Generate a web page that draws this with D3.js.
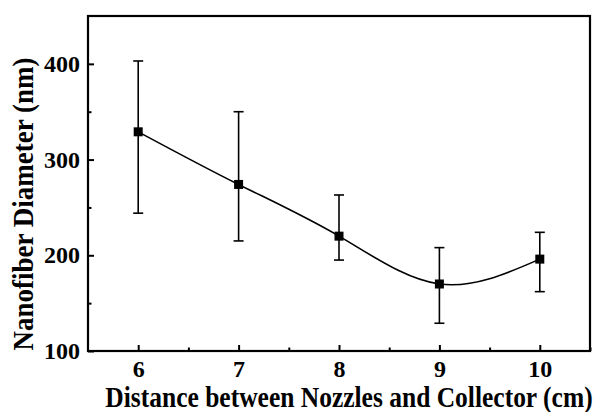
<!DOCTYPE html>
<html>
<head>
<meta charset="utf-8">
<script src="https://cdn.jsdelivr.net/npm/d3@7"></script>
<style>
  body { margin: 0; background: #fff; }
  text { font-family: "Liberation Serif", "Times New Roman", serif; font-weight: bold; fill: #000; }
</style>
</head>
<body>
<script>
// distance (cm) vs nanofiber diameter (nm)
const distance = [6, 7, 8, 9, 10];
const diameter = [329, 274, 220, 170, 196];
const errUp = [403, 350, 263, 208, 224];
const errLow = [244, 215, 195, 129, 162];
const xTicks = [6, 7, 8, 9, 10];
const yTicks = [100, 200, 300, 400];

const width = 601, height = 412;
const margin = { top: 16, right: 11, bottom: 61, left: 88 };

const svg = d3.select('body').append('svg')
    .attr('width', width)
    .attr('height', height);

const x = d3.scaleLinear().domain([5.5, 10.5]).range([margin.left, width - margin.right]);
const y = d3.scaleLinear().domain([100, 450]).range([height - margin.bottom, margin.top]);

const g = svg.append('g');

// frame
g.append('rect')
    .attr('x', margin.left).attr('y', margin.top)
    .attr('width', width - margin.left - margin.right)
    .attr('height', height - margin.top - margin.bottom)
    .attr('fill', 'none').attr('stroke', '#000').attr('stroke-width', 2.2);

// bottom axis, ticks inward
const xAxis = d3.axisBottom(x).tickValues(xTicks).tickSizeInner(-6).tickSizeOuter(0).tickPadding(9).tickFormat(d3.format('d'));
const xg = g.append('g').attr('transform', `translate(0,${y(100)})`).call(xAxis);
xg.select('.domain').remove();
xg.selectAll('.tick line').attr('stroke-width', 2);
xg.selectAll('.tick text').style('font-size', '24px').style('font-family', '"Liberation Serif", serif').style('font-weight', 'bold');
const xMinor = d3.axisBottom(x).tickValues(d3.range(5.5, 10.6, 1).slice(1)).tickSizeInner(-3.5).tickSizeOuter(0).tickFormat('');
const xmg = g.append('g').attr('transform', `translate(0,${y(100)})`).call(xMinor);
xmg.select('.domain').remove();
xmg.selectAll('.tick line').attr('stroke-width', 2);

// left axis
const yAxis = d3.axisLeft(y).tickValues(yTicks).tickSizeInner(-6).tickSizeOuter(0).tickPadding(8);
const yg = g.append('g').attr('transform', `translate(${margin.left},0)`).call(yAxis);
yg.select('.domain').remove();
yg.selectAll('.tick line').attr('stroke-width', 2);
yg.selectAll('.tick text').style('font-size', '24px').style('font-family', '"Liberation Serif", serif').style('font-weight', 'bold');
const yMinor = d3.axisLeft(y).tickValues([150, 250, 350]).tickSizeInner(-3.5).tickSizeOuter(0).tickFormat('');
const ymg = g.append('g').attr('transform', `translate(${margin.left},0)`).call(yMinor);
ymg.select('.domain').remove();
ymg.selectAll('.tick line').attr('stroke-width', 2);

// smooth line
const line = d3.line()
    .x((d, i) => x(distance[i]))
    .y(d => y(d))
    .curve(d3.curveNatural);
g.append('path')
    .datum(diameter)
    .attr('d', line)
    .attr('fill', 'none')
    .attr('stroke', '#000')
    .attr('stroke-width', 1.6);

// error bars
const eb = g.selectAll('.eb').data(distance).enter().append('g').attr('class', 'eb');
eb.append('line')
    .attr('x1', d => x(d)).attr('x2', d => x(d))
    .attr('y1', (d, i) => y(errUp[i])).attr('y2', (d, i) => y(errLow[i]))
    .attr('stroke', '#000').attr('stroke-width', 1.6);
eb.append('line')
    .attr('x1', d => x(d) - 5).attr('x2', d => x(d) + 5)
    .attr('y1', (d, i) => y(errUp[i])).attr('y2', (d, i) => y(errUp[i]))
    .attr('stroke', '#000').attr('stroke-width', 1.6);
eb.append('line')
    .attr('x1', d => x(d) - 5).attr('x2', d => x(d) + 5)
    .attr('y1', (d, i) => y(errLow[i])).attr('y2', (d, i) => y(errLow[i]))
    .attr('stroke', '#000').attr('stroke-width', 1.6);

// square markers
g.selectAll('.pt').data(distance).enter().append('rect')
    .attr('x', d => x(d) - 4.5)
    .attr('y', (d, i) => y(diameter[i]) - 4.5)
    .attr('width', 9).attr('height', 9)
    .attr('fill', '#000');

// axis titles (glyphs in the original are a bit taller than wide)
svg.append('text')
    .attr('transform', 'translate(349,407) scale(1,1.12)')
    .attr('text-anchor', 'middle')
    .style('font-size', '25.5px')
    .text('Distance between Nozzles and Collector (cm)');

svg.append('text')
    .attr('transform', 'translate(33,204) rotate(-90) scale(1,1.12)')
    .attr('text-anchor', 'middle')
    .style('font-size', '27px')
    .text('Nanofiber Diameter (nm)');
</script>
</body>
</html>
